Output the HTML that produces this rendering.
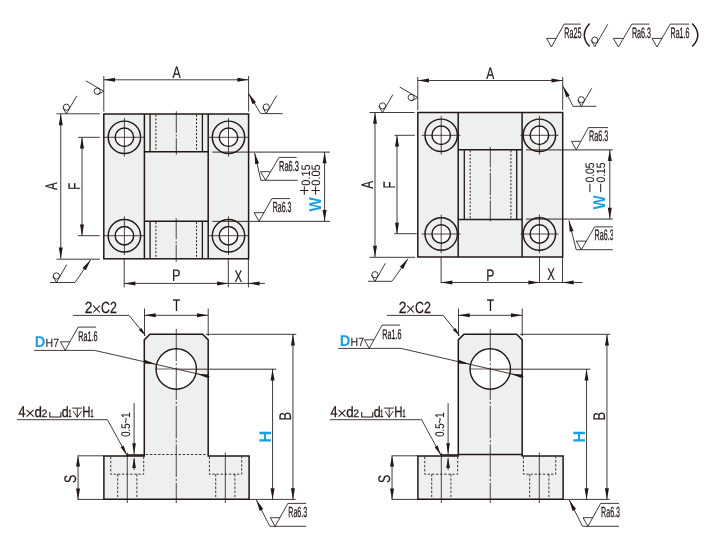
<!DOCTYPE html>
<html><head><meta charset="utf-8"><title>drawing</title>
<style>
html,body{margin:0;padding:0;background:#fff;}
svg{will-change:transform;}
svg{display:block;font-family:"Liberation Sans",sans-serif;text-rendering:geometricPrecision;}
</style></head>
<body>
<svg width="709" height="542" viewBox="0 0 709 542">
<rect width="709" height="542" fill="#fff"/>
<polyline points="546.63,38.40 551.40,47.00 564.10,24.10 580.60,24.10" fill="none" stroke="#231815" stroke-width="0.85" stroke-linejoin="miter"/>
<line x1="546.63" y1="38.40" x2="556.17" y2="38.40" stroke="#231815" stroke-width="0.85" stroke-linecap="butt"/>
<text transform="translate(564.90,38.10) scale(0.4731,1) translate(-1.247,0)" font-size="15.2" fill="#231815" stroke="#231815" stroke-width="0.3" vector-effect="non-scaling-stroke">Ra25</text>
<path d="M589.6,23.4 Q579.0,35 589.6,46.6" fill="none" stroke="#231815" stroke-width="1.45"/>
<g transform="translate(594.80,46.70) rotate(0)" fill="none" stroke="#231815" stroke-width="0.85"><polyline points="-3.6,-6.3 0,0 13.00,-22.52"/><circle cx="0" cy="-6.6" r="3.1"/></g>
<polyline points="613.37,38.40 618.40,47.00 631.80,24.10 649.40,24.10" fill="none" stroke="#231815" stroke-width="0.85" stroke-linejoin="miter"/>
<line x1="613.37" y1="38.40" x2="623.43" y2="38.40" stroke="#231815" stroke-width="0.85" stroke-linecap="butt"/>
<text transform="translate(632.50,38.10) scale(0.4709,1) translate(-1.247,0)" font-size="15.2" fill="#231815" stroke="#231815" stroke-width="0.3" vector-effect="non-scaling-stroke">Ra6.3</text>
<polyline points="652.04,38.40 657.00,47.00 670.20,24.10 689.10,24.10" fill="none" stroke="#231815" stroke-width="0.85" stroke-linejoin="miter"/>
<line x1="652.04" y1="38.40" x2="661.96" y2="38.40" stroke="#231815" stroke-width="0.85" stroke-linecap="butt"/>
<text transform="translate(671.10,38.10) scale(0.4658,1) translate(-1.247,0)" font-size="15.2" fill="#231815" stroke="#231815" stroke-width="0.3" vector-effect="non-scaling-stroke">Ra1.6</text>
<path d="M692.2,23.4 Q703.4,35 692.2,46.6" fill="none" stroke="#231815" stroke-width="1.45"/>
<rect x="103.8" y="114.0" width="144.80" height="144.80" fill="#eeefef" stroke="#231815" stroke-width="1.5"/>
<line x1="144.40" y1="114.00" x2="144.40" y2="258.80" stroke="#231815" stroke-width="1.5" stroke-linecap="butt"/>
<line x1="208.20" y1="114.00" x2="208.20" y2="258.80" stroke="#231815" stroke-width="1.5" stroke-linecap="butt"/>
<line x1="144.40" y1="151.80" x2="208.20" y2="151.80" stroke="#231815" stroke-width="1.5" stroke-linecap="butt"/>
<line x1="144.40" y1="221.20" x2="208.20" y2="221.20" stroke="#231815" stroke-width="1.5" stroke-linecap="butt"/>
<line x1="150.05" y1="114.00" x2="150.05" y2="151.80" stroke="#231815" stroke-width="1.3" stroke-linecap="butt"/>
<line x1="150.05" y1="221.20" x2="150.05" y2="258.80" stroke="#231815" stroke-width="1.3" stroke-linecap="butt"/>
<line x1="202.40" y1="114.00" x2="202.40" y2="151.80" stroke="#231815" stroke-width="1.3" stroke-linecap="butt"/>
<line x1="202.40" y1="221.20" x2="202.40" y2="258.80" stroke="#231815" stroke-width="1.3" stroke-linecap="butt"/>
<line x1="155.90" y1="114.80" x2="155.90" y2="151.20" stroke="#231815" stroke-width="1.0" stroke-dasharray="1.9 1.75" stroke-linecap="butt"/>
<line x1="155.90" y1="222.00" x2="155.90" y2="258.30" stroke="#231815" stroke-width="1.0" stroke-dasharray="1.9 1.75" stroke-linecap="butt"/>
<line x1="196.50" y1="114.80" x2="196.50" y2="151.20" stroke="#231815" stroke-width="1.0" stroke-dasharray="1.9 1.75" stroke-linecap="butt"/>
<line x1="196.50" y1="222.00" x2="196.50" y2="258.30" stroke="#231815" stroke-width="1.0" stroke-dasharray="1.9 1.75" stroke-linecap="butt"/>
<line x1="176.30" y1="111.30" x2="176.30" y2="154.70" stroke="#231815" stroke-width="0.8" stroke-dasharray="21.7 1.5 2 1.5" stroke-linecap="butt"/>
<line x1="176.20" y1="218.30" x2="176.20" y2="261.80" stroke="#231815" stroke-width="0.8" stroke-dasharray="21 2.2 2 1.3 17.5" stroke-linecap="butt"/>
<circle cx="124.40" cy="137.30" r="16.20" fill="none" stroke="#231815" stroke-width="1.45"/>
<circle cx="124.40" cy="137.30" r="9.25" fill="#fff" stroke="#231815" stroke-width="1.45"/>
<circle cx="124.40" cy="235.70" r="16.20" fill="none" stroke="#231815" stroke-width="1.45"/>
<circle cx="124.40" cy="235.70" r="9.25" fill="#fff" stroke="#231815" stroke-width="1.45"/>
<circle cx="228.50" cy="137.30" r="16.20" fill="none" stroke="#231815" stroke-width="1.45"/>
<circle cx="228.50" cy="137.30" r="9.25" fill="#fff" stroke="#231815" stroke-width="1.45"/>
<circle cx="228.50" cy="235.70" r="16.20" fill="none" stroke="#231815" stroke-width="1.45"/>
<circle cx="228.50" cy="235.70" r="9.25" fill="#fff" stroke="#231815" stroke-width="1.45"/>
<line x1="103.80" y1="137.30" x2="144.40" y2="137.30" stroke="#231815" stroke-width="0.8" stroke-linecap="butt"/>
<line x1="124.40" y1="118.00" x2="124.40" y2="156.50" stroke="#231815" stroke-width="0.8" stroke-linecap="butt"/>
<line x1="103.80" y1="235.70" x2="144.40" y2="235.70" stroke="#231815" stroke-width="0.8" stroke-linecap="butt"/>
<line x1="124.40" y1="216.40" x2="124.40" y2="255.00" stroke="#231815" stroke-width="0.8" stroke-linecap="butt"/>
<line x1="209.00" y1="137.30" x2="248.60" y2="137.30" stroke="#231815" stroke-width="0.8" stroke-linecap="butt"/>
<line x1="228.50" y1="118.00" x2="228.50" y2="156.50" stroke="#231815" stroke-width="0.8" stroke-linecap="butt"/>
<line x1="209.00" y1="235.70" x2="248.60" y2="235.70" stroke="#231815" stroke-width="0.8" stroke-linecap="butt"/>
<line x1="228.50" y1="216.40" x2="228.50" y2="255.00" stroke="#231815" stroke-width="0.8" stroke-linecap="butt"/>
<line x1="103.80" y1="76.00" x2="103.80" y2="111.60" stroke="#231815" stroke-width="0.85" stroke-linecap="butt"/>
<line x1="248.60" y1="76.00" x2="248.60" y2="111.60" stroke="#231815" stroke-width="0.85" stroke-linecap="butt"/>
<line x1="103.80" y1="79.80" x2="248.60" y2="79.80" stroke="#231815" stroke-width="0.85" stroke-linecap="butt"/>
<polygon points="103.80,79.80 115.00,77.80 115.00,81.80" fill="#231815"/>
<polygon points="248.60,79.80 237.40,81.80 237.40,77.80" fill="#231815"/>
<text transform="translate(172.40,78.00) scale(0.7450,1) translate(-0.032,0)" font-size="16.6" fill="#231815" stroke="#231815" stroke-width="0.15" vector-effect="non-scaling-stroke">A</text>
<line x1="56.50" y1="113.80" x2="99.80" y2="113.80" stroke="#231815" stroke-width="0.85" stroke-linecap="butt"/>
<line x1="56.50" y1="259.20" x2="99.80" y2="259.20" stroke="#231815" stroke-width="0.85" stroke-linecap="butt"/>
<line x1="60.75" y1="114.00" x2="60.75" y2="258.80" stroke="#231815" stroke-width="0.85" stroke-linecap="butt"/>
<polygon points="60.75,114.00 62.75,125.20 58.75,125.20" fill="#231815"/>
<polygon points="60.75,258.80 58.75,247.60 62.75,247.60" fill="#231815"/>
<text transform="translate(57.30,190.10) rotate(-90) scale(0.6905,1) translate(-0.032,0)" font-size="16.6" fill="#231815" stroke="#231815" stroke-width="0.19" vector-effect="non-scaling-stroke">A</text>
<line x1="78.00" y1="137.30" x2="99.80" y2="137.30" stroke="#231815" stroke-width="0.85" stroke-linecap="butt"/>
<line x1="78.00" y1="235.70" x2="99.80" y2="235.70" stroke="#231815" stroke-width="0.85" stroke-linecap="butt"/>
<line x1="82.00" y1="137.30" x2="82.00" y2="235.70" stroke="#231815" stroke-width="0.85" stroke-linecap="butt"/>
<polygon points="82.00,137.30 84.00,148.50 80.00,148.50" fill="#231815"/>
<polygon points="82.00,235.70 80.00,224.50 84.00,224.50" fill="#231815"/>
<text transform="translate(79.70,188.70) rotate(-90) scale(0.6820,1) translate(-1.378,0)" font-size="16.8" fill="#231815" stroke="#231815" stroke-width="0.19" vector-effect="non-scaling-stroke">F</text>
<line x1="124.20" y1="258.80" x2="124.20" y2="287.30" stroke="#231815" stroke-width="0.85" stroke-linecap="butt"/>
<line x1="228.30" y1="258.80" x2="228.30" y2="287.30" stroke="#231815" stroke-width="0.85" stroke-linecap="butt"/>
<line x1="248.40" y1="258.80" x2="248.40" y2="287.30" stroke="#231815" stroke-width="0.85" stroke-linecap="butt"/>
<line x1="124.20" y1="283.40" x2="264.90" y2="283.40" stroke="#231815" stroke-width="0.85" stroke-linecap="butt"/>
<polygon points="124.20,283.40 135.40,281.40 135.40,285.40" fill="#231815"/>
<polygon points="228.30,283.40 217.10,285.40 217.10,281.40" fill="#231815"/>
<polygon points="248.40,283.40 259.60,281.40 259.60,285.40" fill="#231815"/>
<text transform="translate(173.00,280.80) scale(0.7605,1) translate(-1.378,0)" font-size="16.8" fill="#231815" stroke="#231815" stroke-width="0.14" vector-effect="non-scaling-stroke">P</text>
<text transform="translate(234.80,281.60) scale(0.6956,1) translate(-0.373,0)" font-size="16.6" fill="#231815" stroke="#231815" stroke-width="0.18" vector-effect="non-scaling-stroke">X</text>
<line x1="212.30" y1="152.10" x2="329.90" y2="152.10" stroke="#231815" stroke-width="0.9" stroke-linecap="butt"/>
<line x1="212.30" y1="221.35" x2="329.90" y2="221.35" stroke="#231815" stroke-width="0.9" stroke-linecap="butt"/>
<line x1="324.60" y1="152.10" x2="324.60" y2="221.30" stroke="#231815" stroke-width="0.85" stroke-linecap="butt"/>
<polygon points="324.60,152.10 326.60,163.30 322.60,163.30" fill="#231815"/>
<polygon points="324.60,221.30 322.60,210.10 326.60,210.10" fill="#231815"/>
<g transform="translate(66.40,113.80) rotate(0)" fill="none" stroke="#231815" stroke-width="0.85"><polyline points="-3.6,-6.3 0,0 10.40,-18.01"/><circle cx="0" cy="-6.6" r="3.1"/></g>
<g transform="translate(103.80,91.20) rotate(-90)" fill="none" stroke="#231815" stroke-width="0.85"><polyline points="-3.6,-6.3 0,0 10.40,-18.01"/><circle cx="0" cy="-6.6" r="3.1"/></g>
<polygon points="248.60,93.50 256.01,102.14 252.56,104.17" fill="#231815"/>
<polyline points="248.60,93.50 260.65,113.60 282.60,113.60" fill="none" stroke="#231815" stroke-width="0.85" stroke-linejoin="miter"/>
<g transform="translate(266.30,113.60) rotate(0)" fill="none" stroke="#231815" stroke-width="0.85"><polyline points="-3.6,-6.3 0,0 10.40,-18.01"/><circle cx="0" cy="-6.6" r="3.1"/></g>
<polygon points="90.50,260.00 85.80,270.36 82.51,268.10" fill="#231815"/>
<polyline points="90.50,260.00 75.00,282.50 50.00,282.50" fill="none" stroke="#231815" stroke-width="0.85" stroke-linejoin="miter"/>
<g transform="translate(56.40,282.50) rotate(0)" fill="none" stroke="#231815" stroke-width="0.85"><polyline points="-3.6,-6.3 0,0 10.40,-18.01"/><circle cx="0" cy="-6.6" r="3.1"/></g>
<polygon points="254.60,152.90 259.07,163.36 255.17,164.26" fill="#231815"/>
<polyline points="254.60,152.90 260.90,180.30 297.70,180.30" fill="none" stroke="#231815" stroke-width="0.85" stroke-linejoin="miter"/>
<polyline points="260.57,171.70 265.60,180.30 279.00,157.40 296.60,157.40" fill="none" stroke="#231815" stroke-width="0.85" stroke-linejoin="miter"/>
<line x1="260.57" y1="171.70" x2="270.63" y2="171.70" stroke="#231815" stroke-width="0.85" stroke-linecap="butt"/>
<text transform="translate(279.60,170.60) scale(0.5190,1) translate(-1.181,0)" font-size="14.4" fill="#231815" stroke="#231815" stroke-width="0.3" vector-effect="non-scaling-stroke">Ra6.3</text>
<polyline points="254.11,212.70 259.00,221.30 271.90,198.60 290.20,198.60" fill="none" stroke="#231815" stroke-width="0.85" stroke-linejoin="miter"/>
<line x1="254.11" y1="212.70" x2="263.89" y2="212.70" stroke="#231815" stroke-width="0.85" stroke-linecap="butt"/>
<text transform="translate(273.30,212.00) scale(0.4795,1) translate(-1.198,0)" font-size="14.6" fill="#231815" stroke="#231815" stroke-width="0.3" vector-effect="non-scaling-stroke">Ra6.3</text>
<text transform="translate(309.50,185.20) rotate(-90) scale(0.8965,1) translate(-0.477,0)" font-size="12.2" fill="#231815" stroke="#231815" stroke-width="0.06" vector-effect="non-scaling-stroke">0.15</text>
<line x1="304.30" y1="194.70" x2="304.30" y2="186.30" stroke="#231815" stroke-width="1.0" stroke-linecap="butt"/>
<line x1="300.10" y1="190.50" x2="308.50" y2="190.50" stroke="#231815" stroke-width="1.0" stroke-linecap="butt"/>
<text transform="translate(320.40,185.20) rotate(-90) scale(0.8965,1) translate(-0.477,0)" font-size="12.2" fill="#231815" stroke="#231815" stroke-width="0.06" vector-effect="non-scaling-stroke">0.05</text>
<line x1="315.60" y1="194.70" x2="315.60" y2="186.30" stroke="#231815" stroke-width="1.0" stroke-linecap="butt"/>
<line x1="311.40" y1="190.50" x2="319.80" y2="190.50" stroke="#231815" stroke-width="1.0" stroke-linecap="butt"/>
<text transform="translate(320.50,211.60) rotate(-90) scale(0.8868,1) translate(-0.017,0)" font-size="17" fill="#1a9de2" font-weight="bold">W</text>
<rect x="417.8" y="112.5" width="144.90" height="144.50" fill="#eeefef" stroke="#231815" stroke-width="1.5"/>
<line x1="458.20" y1="112.50" x2="458.20" y2="257.00" stroke="#231815" stroke-width="1.5" stroke-linecap="butt"/>
<line x1="522.10" y1="112.50" x2="522.10" y2="257.00" stroke="#231815" stroke-width="1.5" stroke-linecap="butt"/>
<line x1="458.20" y1="149.70" x2="522.10" y2="149.70" stroke="#231815" stroke-width="1.5" stroke-linecap="butt"/>
<line x1="458.20" y1="219.60" x2="522.10" y2="219.60" stroke="#231815" stroke-width="1.5" stroke-linecap="butt"/>
<line x1="464.30" y1="149.70" x2="464.30" y2="219.60" stroke="#231815" stroke-width="1.3" stroke-linecap="butt"/>
<line x1="516.70" y1="149.70" x2="516.70" y2="219.60" stroke="#231815" stroke-width="1.3" stroke-linecap="butt"/>
<line x1="470.20" y1="150.50" x2="470.20" y2="219.00" stroke="#231815" stroke-width="1.0" stroke-dasharray="1.9 1.75" stroke-linecap="butt"/>
<line x1="510.90" y1="150.50" x2="510.90" y2="219.00" stroke="#231815" stroke-width="1.0" stroke-dasharray="1.9 1.75" stroke-linecap="butt"/>
<line x1="490.30" y1="147.00" x2="490.30" y2="221.30" stroke="#231815" stroke-width="0.8" stroke-dasharray="20.4 1.4 2.6 1.4 22.4 1.4 2.6 1.4 21" stroke-linecap="butt"/>
<circle cx="441.20" cy="135.30" r="16.20" fill="none" stroke="#231815" stroke-width="1.45"/>
<circle cx="441.20" cy="135.30" r="9.25" fill="#fff" stroke="#231815" stroke-width="1.45"/>
<circle cx="441.20" cy="234.00" r="16.20" fill="none" stroke="#231815" stroke-width="1.45"/>
<circle cx="441.20" cy="234.00" r="9.25" fill="#fff" stroke="#231815" stroke-width="1.45"/>
<circle cx="539.40" cy="135.30" r="16.20" fill="none" stroke="#231815" stroke-width="1.45"/>
<circle cx="539.40" cy="135.30" r="9.25" fill="#fff" stroke="#231815" stroke-width="1.45"/>
<circle cx="539.40" cy="234.00" r="16.20" fill="none" stroke="#231815" stroke-width="1.45"/>
<circle cx="539.40" cy="234.00" r="9.25" fill="#fff" stroke="#231815" stroke-width="1.45"/>
<line x1="421.70" y1="135.30" x2="460.50" y2="135.30" stroke="#231815" stroke-width="0.8" stroke-linecap="butt"/>
<line x1="441.20" y1="115.90" x2="441.20" y2="154.60" stroke="#231815" stroke-width="0.8" stroke-linecap="butt"/>
<line x1="421.70" y1="234.00" x2="460.50" y2="234.00" stroke="#231815" stroke-width="0.8" stroke-linecap="butt"/>
<line x1="441.20" y1="214.60" x2="441.20" y2="253.30" stroke="#231815" stroke-width="0.8" stroke-linecap="butt"/>
<line x1="520.40" y1="135.30" x2="558.50" y2="135.30" stroke="#231815" stroke-width="0.8" stroke-linecap="butt"/>
<line x1="539.40" y1="115.90" x2="539.40" y2="154.60" stroke="#231815" stroke-width="0.8" stroke-linecap="butt"/>
<line x1="520.40" y1="234.00" x2="558.50" y2="234.00" stroke="#231815" stroke-width="0.8" stroke-linecap="butt"/>
<line x1="539.40" y1="214.60" x2="539.40" y2="253.30" stroke="#231815" stroke-width="0.8" stroke-linecap="butt"/>
<line x1="417.80" y1="77.00" x2="417.80" y2="110.00" stroke="#231815" stroke-width="0.85" stroke-linecap="butt"/>
<line x1="562.70" y1="77.00" x2="562.70" y2="110.00" stroke="#231815" stroke-width="0.85" stroke-linecap="butt"/>
<line x1="417.80" y1="80.50" x2="562.70" y2="80.50" stroke="#231815" stroke-width="0.85" stroke-linecap="butt"/>
<polygon points="417.80,80.50 429.00,78.50 429.00,82.50" fill="#231815"/>
<polygon points="562.70,80.50 551.50,82.50 551.50,78.50" fill="#231815"/>
<text transform="translate(486.20,79.10) scale(0.7268,1) translate(-0.032,0)" font-size="16.6" fill="#231815" stroke="#231815" stroke-width="0.16" vector-effect="non-scaling-stroke">A</text>
<line x1="369.50" y1="112.50" x2="414.60" y2="112.50" stroke="#231815" stroke-width="0.85" stroke-linecap="butt"/>
<line x1="369.50" y1="257.30" x2="415.20" y2="257.30" stroke="#231815" stroke-width="0.85" stroke-linecap="butt"/>
<line x1="375.00" y1="112.50" x2="375.00" y2="257.00" stroke="#231815" stroke-width="0.85" stroke-linecap="butt"/>
<polygon points="375.00,112.50 377.00,123.70 373.00,123.70" fill="#231815"/>
<polygon points="375.00,257.00 373.00,245.80 377.00,245.80" fill="#231815"/>
<text transform="translate(372.80,188.70) rotate(-90) scale(0.7086,1) translate(-0.032,0)" font-size="16.6" fill="#231815" stroke="#231815" stroke-width="0.17" vector-effect="non-scaling-stroke">A</text>
<line x1="394.50" y1="135.30" x2="414.80" y2="135.30" stroke="#231815" stroke-width="0.85" stroke-linecap="butt"/>
<line x1="394.20" y1="233.70" x2="416.70" y2="233.70" stroke="#231815" stroke-width="0.85" stroke-linecap="butt"/>
<line x1="397.00" y1="135.30" x2="397.00" y2="234.00" stroke="#231815" stroke-width="0.85" stroke-linecap="butt"/>
<polygon points="397.00,135.30 399.00,146.50 395.00,146.50" fill="#231815"/>
<polygon points="397.00,234.00 395.00,222.80 399.00,222.80" fill="#231815"/>
<text transform="translate(394.60,187.50) rotate(-90) scale(0.6942,1) translate(-1.378,0)" font-size="16.8" fill="#231815" stroke="#231815" stroke-width="0.18" vector-effect="non-scaling-stroke">F</text>
<line x1="441.10" y1="257.00" x2="441.10" y2="283.00" stroke="#231815" stroke-width="0.85" stroke-linecap="butt"/>
<line x1="539.50" y1="257.00" x2="539.50" y2="283.00" stroke="#231815" stroke-width="0.85" stroke-linecap="butt"/>
<line x1="562.50" y1="257.00" x2="562.50" y2="283.00" stroke="#231815" stroke-width="0.85" stroke-linecap="butt"/>
<line x1="441.10" y1="282.50" x2="582.50" y2="282.50" stroke="#231815" stroke-width="0.85" stroke-linecap="butt"/>
<polygon points="441.10,282.50 452.30,280.50 452.30,284.50" fill="#231815"/>
<polygon points="539.60,282.50 528.40,284.50 528.40,280.50" fill="#231815"/>
<polygon points="562.50,282.50 573.70,280.50 573.70,284.50" fill="#231815"/>
<text transform="translate(487.20,280.50) scale(0.7357,1) translate(-1.362,0)" font-size="16.6" fill="#231815" stroke="#231815" stroke-width="0.16" vector-effect="non-scaling-stroke">P</text>
<text transform="translate(547.40,279.80) scale(0.6859,1) translate(-0.373,0)" font-size="16.6" fill="#231815" stroke="#231815" stroke-width="0.19" vector-effect="non-scaling-stroke">X</text>
<line x1="526.00" y1="149.90" x2="612.80" y2="149.90" stroke="#231815" stroke-width="0.9" stroke-linecap="butt"/>
<line x1="526.00" y1="219.05" x2="612.80" y2="219.05" stroke="#231815" stroke-width="0.9" stroke-linecap="butt"/>
<line x1="609.80" y1="149.90" x2="609.80" y2="219.00" stroke="#231815" stroke-width="0.85" stroke-linecap="butt"/>
<polygon points="609.80,149.90 611.80,161.10 607.80,161.10" fill="#231815"/>
<polygon points="609.80,219.00 607.80,207.80 611.80,207.80" fill="#231815"/>
<g transform="translate(382.50,112.50) rotate(0)" fill="none" stroke="#231815" stroke-width="0.85"><polyline points="-3.6,-6.3 0,0 10.40,-18.01"/><circle cx="0" cy="-6.6" r="3.1"/></g>
<g transform="translate(417.80,97.50) rotate(-90)" fill="none" stroke="#231815" stroke-width="0.85"><polyline points="-3.6,-6.3 0,0 10.40,-18.01"/><circle cx="0" cy="-6.6" r="3.1"/></g>
<polygon points="563.00,86.30 569.71,95.49 566.11,97.24" fill="#231815"/>
<polyline points="563.00,86.30 573.00,106.30 596.30,106.30" fill="none" stroke="#231815" stroke-width="0.85" stroke-linejoin="miter"/>
<g transform="translate(581.30,106.30) rotate(0)" fill="none" stroke="#231815" stroke-width="0.85"><polyline points="-3.6,-6.3 0,0 10.40,-18.01"/><circle cx="0" cy="-6.6" r="3.1"/></g>
<polygon points="408.00,258.80 403.14,269.09 399.88,266.77" fill="#231815"/>
<polyline points="408.00,258.80 392.00,281.30 368.00,281.30" fill="none" stroke="#231815" stroke-width="0.85" stroke-linejoin="miter"/>
<g transform="translate(375.00,281.30) rotate(0)" fill="none" stroke="#231815" stroke-width="0.85"><polyline points="-3.6,-6.3 0,0 10.40,-18.01"/><circle cx="0" cy="-6.6" r="3.1"/></g>
<polyline points="571.50,141.30 576.20,149.90 588.40,127.60 608.00,127.60" fill="none" stroke="#231815" stroke-width="0.85" stroke-linejoin="miter"/>
<line x1="571.50" y1="141.30" x2="580.90" y2="141.30" stroke="#231815" stroke-width="0.85" stroke-linecap="butt"/>
<text transform="translate(589.60,141.30) scale(0.4735,1) translate(-1.247,0)" font-size="15.2" fill="#231815" stroke="#231815" stroke-width="0.3" vector-effect="non-scaling-stroke">Ra6.3</text>
<polygon points="568.90,220.50 573.55,230.88 569.67,231.85" fill="#231815"/>
<polyline points="568.90,220.50 576.20,249.70 612.80,249.70" fill="none" stroke="#231815" stroke-width="0.85" stroke-linejoin="miter"/>
<polyline points="576.29,241.10 581.30,249.70 594.60,226.85 612.80,226.85" fill="none" stroke="#231815" stroke-width="0.85" stroke-linejoin="miter"/>
<line x1="576.29" y1="241.10" x2="586.31" y2="241.10" stroke="#231815" stroke-width="0.85" stroke-linecap="butt"/>
<text transform="translate(595.20,240.10) scale(0.4709,1) translate(-1.247,0)" font-size="15.2" fill="#231815" stroke="#231815" stroke-width="0.3" vector-effect="non-scaling-stroke">Ra6.3</text>
<rect x="612.9" y="222" width="8" height="32" fill="#fff"/>
<text transform="translate(594.30,182.20) rotate(-90) scale(0.8481,1) translate(-0.477,0)" font-size="12.2" fill="#231815" stroke="#231815" stroke-width="0.09" vector-effect="non-scaling-stroke">0.05</text>
<line x1="589.90" y1="192.20" x2="589.90" y2="183.80" stroke="#231815" stroke-width="1.0" stroke-linecap="butt"/>
<text transform="translate(605.10,182.20) rotate(-90) scale(0.8481,1) translate(-0.477,0)" font-size="12.2" fill="#231815" stroke="#231815" stroke-width="0.09" vector-effect="non-scaling-stroke">0.15</text>
<line x1="600.70" y1="192.20" x2="600.70" y2="183.80" stroke="#231815" stroke-width="1.0" stroke-linecap="butt"/>
<text transform="translate(605.10,209.60) rotate(-90) scale(0.8806,1) translate(-0.017,0)" font-size="17" fill="#1a9de2" font-weight="bold">W</text>
<polygon points="144.30,339.90 149.90,334.30 202.60,334.30 208.20,339.90 208.20,455.90 249.10,455.90 249.10,499.20 103.90,499.20 103.90,455.90 144.30,455.90" fill="#eeefef" stroke="#231815" stroke-width="1.5" stroke-linejoin="miter"/>
<line x1="126.60" y1="454.95" x2="145.00" y2="454.95" stroke="#231815" stroke-width="1.5" stroke-linecap="butt"/>
<line x1="145.80" y1="454.50" x2="207.70" y2="454.50" stroke="#231815" stroke-width="0.85" stroke-dasharray="2.4 1.7" stroke-linecap="butt"/>
<circle cx="176.25" cy="369.00" r="20.20" fill="#fff" stroke="#231815" stroke-width="1.4"/>
<line x1="176.25" y1="328.80" x2="176.25" y2="503.00" stroke="#231815" stroke-width="0.8" stroke-dasharray="32.6 1.8 2.2 1.9" stroke-linecap="butt"/>
<line x1="155.50" y1="369.00" x2="181.00" y2="369.00" stroke="#231815" stroke-width="0.7" stroke-linecap="butt"/>
<polyline points="110.75,456.70 110.75,474.20 143.70,474.20 143.70,456.70" fill="none" stroke="#231815" stroke-width="0.85" stroke-linejoin="miter" stroke-dasharray="2.4 1.7"/>
<line x1="117.70" y1="474.20" x2="117.70" y2="498.70" stroke="#231815" stroke-width="0.85" stroke-dasharray="2.4 1.7" stroke-linecap="butt"/>
<line x1="136.90" y1="474.20" x2="136.90" y2="498.70" stroke="#231815" stroke-width="0.85" stroke-dasharray="2.4 1.7" stroke-linecap="butt"/>
<line x1="127.30" y1="452.50" x2="127.30" y2="503.00" stroke="#231815" stroke-width="0.8" stroke-linecap="butt"/>
<polyline points="209.40,456.70 209.40,474.20 241.70,474.20 241.70,456.70" fill="none" stroke="#231815" stroke-width="0.85" stroke-linejoin="miter" stroke-dasharray="2.4 1.7"/>
<line x1="215.70" y1="474.20" x2="215.70" y2="498.70" stroke="#231815" stroke-width="0.85" stroke-dasharray="2.4 1.7" stroke-linecap="butt"/>
<line x1="234.90" y1="474.20" x2="234.90" y2="498.70" stroke="#231815" stroke-width="0.85" stroke-dasharray="2.4 1.7" stroke-linecap="butt"/>
<line x1="225.30" y1="452.50" x2="225.30" y2="503.00" stroke="#231815" stroke-width="0.8" stroke-linecap="butt"/>
<line x1="144.50" y1="308.50" x2="144.50" y2="336.00" stroke="#231815" stroke-width="0.85" stroke-linecap="butt"/>
<line x1="208.20" y1="308.50" x2="208.20" y2="336.00" stroke="#231815" stroke-width="0.85" stroke-linecap="butt"/>
<line x1="144.30" y1="315.30" x2="208.20" y2="315.30" stroke="#231815" stroke-width="0.85" stroke-linecap="butt"/>
<polygon points="144.50,315.30 155.70,313.30 155.70,317.30" fill="#231815"/>
<polygon points="208.20,315.30 197.00,317.30 197.00,313.30" fill="#231815"/>
<line x1="205.70" y1="334.30" x2="296.30" y2="334.30" stroke="#231815" stroke-width="0.85" stroke-linecap="butt"/>
<line x1="181.00" y1="369.20" x2="276.30" y2="369.20" stroke="#231815" stroke-width="0.9" stroke-linecap="butt"/>
<line x1="249.10" y1="499.40" x2="295.80" y2="499.40" stroke="#231815" stroke-width="0.85" stroke-linecap="butt"/>
<line x1="292.95" y1="334.30" x2="292.95" y2="499.40" stroke="#231815" stroke-width="0.85" stroke-linecap="butt"/>
<polygon points="292.95,334.30 294.95,345.50 290.95,345.50" fill="#231815"/>
<polygon points="292.95,499.40 290.95,488.20 294.95,488.20" fill="#231815"/>
<line x1="272.55" y1="369.20" x2="272.55" y2="499.40" stroke="#231815" stroke-width="0.85" stroke-linecap="butt"/>
<polygon points="272.55,369.20 274.55,380.40 270.55,380.40" fill="#231815"/>
<polygon points="272.55,499.40 270.55,488.20 274.55,488.20" fill="#231815"/>
<line x1="77.60" y1="455.80" x2="103.90" y2="455.80" stroke="#231815" stroke-width="0.85" stroke-linecap="butt"/>
<line x1="77.60" y1="499.40" x2="103.90" y2="499.40" stroke="#231815" stroke-width="0.85" stroke-linecap="butt"/>
<line x1="78.05" y1="455.80" x2="78.05" y2="499.40" stroke="#231815" stroke-width="0.85" stroke-linecap="butt"/>
<polygon points="78.05,455.80 80.05,466.60 76.05,466.60" fill="#231815"/>
<polygon points="78.05,499.40 76.05,488.60 80.05,488.60" fill="#231815"/>
<line x1="134.10" y1="403.20" x2="134.10" y2="454.50" stroke="#231815" stroke-width="0.85" stroke-linecap="butt"/>
<polygon points="134.10,454.30 132.30,443.30 135.90,443.30" fill="#231815"/>
<line x1="134.10" y1="458.50" x2="134.10" y2="470.00" stroke="#231815" stroke-width="0.85" stroke-linecap="butt"/>
<polygon points="134.10,457.20 135.90,468.00 132.30,468.00" fill="#231815"/>
<polygon points="256.40,500.00 263.27,509.07 259.70,510.89" fill="#231815"/>
<polyline points="256.40,500.00 269.80,526.30 306.20,526.30" fill="none" stroke="#231815" stroke-width="0.85" stroke-linejoin="miter"/>
<polyline points="270.29,517.70 275.10,526.30 287.90,503.40 306.20,503.40" fill="none" stroke="#231815" stroke-width="0.85" stroke-linejoin="miter"/>
<line x1="270.29" y1="517.70" x2="279.91" y2="517.70" stroke="#231815" stroke-width="0.85" stroke-linecap="butt"/>
<text transform="translate(288.90,516.90) scale(0.4849,1) translate(-1.198,0)" font-size="14.6" fill="#231815" stroke="#231815" stroke-width="0.3" vector-effect="non-scaling-stroke">Ra6.3</text>
<polygon points="458.30,339.90 463.90,334.30 516.60,334.30 522.20,339.90 522.20,455.90 563.10,455.90 563.10,499.20 417.90,499.20 417.90,455.90 458.30,455.90" fill="#eeefef" stroke="#231815" stroke-width="1.5" stroke-linejoin="miter"/>
<line x1="440.60" y1="454.95" x2="459.00" y2="454.95" stroke="#231815" stroke-width="1.5" stroke-linecap="butt"/>
<line x1="458.30" y1="454.50" x2="522.20" y2="454.50" stroke="#231815" stroke-width="1.5" stroke-linecap="butt"/>
<circle cx="490.25" cy="369.00" r="20.20" fill="#fff" stroke="#231815" stroke-width="1.4"/>
<line x1="490.25" y1="328.80" x2="490.25" y2="503.00" stroke="#231815" stroke-width="0.8" stroke-dasharray="32.6 1.8 2.2 1.9" stroke-linecap="butt"/>
<line x1="469.50" y1="369.00" x2="495.00" y2="369.00" stroke="#231815" stroke-width="0.7" stroke-linecap="butt"/>
<polyline points="424.75,456.70 424.75,474.20 457.70,474.20 457.70,456.70" fill="none" stroke="#231815" stroke-width="0.85" stroke-linejoin="miter" stroke-dasharray="2.4 1.7"/>
<line x1="431.70" y1="474.20" x2="431.70" y2="498.70" stroke="#231815" stroke-width="0.85" stroke-dasharray="2.4 1.7" stroke-linecap="butt"/>
<line x1="450.90" y1="474.20" x2="450.90" y2="498.70" stroke="#231815" stroke-width="0.85" stroke-dasharray="2.4 1.7" stroke-linecap="butt"/>
<line x1="441.30" y1="452.50" x2="441.30" y2="503.00" stroke="#231815" stroke-width="0.8" stroke-linecap="butt"/>
<polyline points="523.40,456.70 523.40,474.20 555.70,474.20 555.70,456.70" fill="none" stroke="#231815" stroke-width="0.85" stroke-linejoin="miter" stroke-dasharray="2.4 1.7"/>
<line x1="529.70" y1="474.20" x2="529.70" y2="498.70" stroke="#231815" stroke-width="0.85" stroke-dasharray="2.4 1.7" stroke-linecap="butt"/>
<line x1="548.90" y1="474.20" x2="548.90" y2="498.70" stroke="#231815" stroke-width="0.85" stroke-dasharray="2.4 1.7" stroke-linecap="butt"/>
<line x1="539.30" y1="452.50" x2="539.30" y2="503.00" stroke="#231815" stroke-width="0.8" stroke-linecap="butt"/>
<line x1="458.50" y1="308.50" x2="458.50" y2="336.00" stroke="#231815" stroke-width="0.85" stroke-linecap="butt"/>
<line x1="522.20" y1="308.50" x2="522.20" y2="336.00" stroke="#231815" stroke-width="0.85" stroke-linecap="butt"/>
<line x1="458.30" y1="315.30" x2="522.20" y2="315.30" stroke="#231815" stroke-width="0.85" stroke-linecap="butt"/>
<polygon points="458.50,315.30 469.70,313.30 469.70,317.30" fill="#231815"/>
<polygon points="522.20,315.30 511.00,317.30 511.00,313.30" fill="#231815"/>
<line x1="519.70" y1="334.30" x2="610.30" y2="334.30" stroke="#231815" stroke-width="0.85" stroke-linecap="butt"/>
<line x1="495.00" y1="369.20" x2="590.30" y2="369.20" stroke="#231815" stroke-width="0.9" stroke-linecap="butt"/>
<line x1="563.10" y1="499.40" x2="609.80" y2="499.40" stroke="#231815" stroke-width="0.85" stroke-linecap="butt"/>
<line x1="606.95" y1="334.30" x2="606.95" y2="499.40" stroke="#231815" stroke-width="0.85" stroke-linecap="butt"/>
<polygon points="606.95,334.30 608.95,345.50 604.95,345.50" fill="#231815"/>
<polygon points="606.95,499.40 604.95,488.20 608.95,488.20" fill="#231815"/>
<line x1="586.55" y1="369.20" x2="586.55" y2="499.40" stroke="#231815" stroke-width="0.85" stroke-linecap="butt"/>
<polygon points="586.55,369.20 588.55,380.40 584.55,380.40" fill="#231815"/>
<polygon points="586.55,499.40 584.55,488.20 588.55,488.20" fill="#231815"/>
<line x1="391.60" y1="455.80" x2="417.90" y2="455.80" stroke="#231815" stroke-width="0.85" stroke-linecap="butt"/>
<line x1="391.60" y1="499.40" x2="417.90" y2="499.40" stroke="#231815" stroke-width="0.85" stroke-linecap="butt"/>
<line x1="392.05" y1="455.80" x2="392.05" y2="499.40" stroke="#231815" stroke-width="0.85" stroke-linecap="butt"/>
<polygon points="392.05,455.80 394.05,466.60 390.05,466.60" fill="#231815"/>
<polygon points="392.05,499.40 390.05,488.60 394.05,488.60" fill="#231815"/>
<line x1="448.10" y1="403.20" x2="448.10" y2="454.50" stroke="#231815" stroke-width="0.85" stroke-linecap="butt"/>
<polygon points="448.10,454.30 446.30,443.30 449.90,443.30" fill="#231815"/>
<line x1="448.10" y1="458.50" x2="448.10" y2="470.00" stroke="#231815" stroke-width="0.85" stroke-linecap="butt"/>
<polygon points="448.10,457.20 449.90,468.00 446.30,468.00" fill="#231815"/>
<polygon points="569.20,500.00 576.07,509.07 572.50,510.89" fill="#231815"/>
<polyline points="569.20,500.00 582.60,526.30 619.00,526.30" fill="none" stroke="#231815" stroke-width="0.85" stroke-linejoin="miter"/>
<polyline points="583.09,517.70 587.90,526.30 600.70,503.40 619.00,503.40" fill="none" stroke="#231815" stroke-width="0.85" stroke-linejoin="miter"/>
<line x1="583.09" y1="517.70" x2="592.71" y2="517.70" stroke="#231815" stroke-width="0.85" stroke-linecap="butt"/>
<text transform="translate(601.70,516.90) scale(0.4849,1) translate(-1.198,0)" font-size="14.6" fill="#231815" stroke="#231815" stroke-width="0.3" vector-effect="non-scaling-stroke">Ra6.3</text>
<text transform="translate(172.90,310.90) scale(0.7264,1) translate(-0.377,0)" font-size="16.8" fill="#231815" stroke="#231815" stroke-width="0.16" vector-effect="non-scaling-stroke">T</text>
<text transform="translate(76.00,482.50) rotate(-90) scale(0.7341,1) translate(-0.763,0)" font-size="16.8" fill="#231815" stroke="#231815" stroke-width="0.16" vector-effect="non-scaling-stroke">S</text>
<text transform="translate(291.00,419.40) rotate(-90) scale(0.7717,1) translate(-1.378,0)" font-size="16.8" fill="#231815" stroke="#231815" stroke-width="0.14" vector-effect="non-scaling-stroke">B</text>
<text transform="translate(270.50,441.70) rotate(-90) scale(1.0024,1) translate(-1.124,0)" font-size="16.8" fill="#1a9de2" font-weight="bold">H</text>
<text transform="translate(130.10,436.40) rotate(-90) scale(0.7604,1) translate(-0.492,0)" font-size="12.6" fill="#231815" stroke="#231815" stroke-width="0.14" vector-effect="non-scaling-stroke">0.5~1</text>
<text transform="translate(85.40,313.20) scale(0.8536,1) translate(-0.815,0)" font-size="16.2" fill="#231815" stroke="#231815" stroke-width="0.25" vector-effect="non-scaling-stroke">2</text>
<line x1="93.20" y1="305.70" x2="99.90" y2="312.50" stroke="#231815" stroke-width="1.05" stroke-linecap="butt"/>
<line x1="93.20" y1="312.50" x2="99.90" y2="305.70" stroke="#231815" stroke-width="1.05" stroke-linecap="butt"/>
<text transform="translate(101.60,313.20) scale(0.7655,1) translate(-0.823,0)" font-size="16.2" fill="#231815" stroke="#231815" stroke-width="0.25" vector-effect="non-scaling-stroke">C2</text>
<polyline points="72.90,315.40 129.10,315.40 145.30,335.30" fill="none" stroke="#231815" stroke-width="0.85" stroke-linejoin="miter"/>
<polygon points="145.50,335.60 138.83,330.06 141.47,327.92" fill="#231815"/>
<text transform="translate(35.80,346.90) scale(0.9347,1) translate(-1.050,0)" font-size="15.7" fill="#1a9de2" font-weight="bold">D</text>
<text transform="translate(46.40,346.90) scale(0.9022,1) translate(-0.968,0)" font-size="11.8" fill="#231815" stroke="#231815" stroke-width="0.06" vector-effect="non-scaling-stroke">H7</text>
<polyline points="60.44,341.80 65.20,350.40 78.10,327.10 96.10,327.10" fill="none" stroke="#231815" stroke-width="0.85" stroke-linejoin="miter"/>
<line x1="60.44" y1="341.80" x2="69.96" y2="341.80" stroke="#231815" stroke-width="0.85" stroke-linecap="butt"/>
<text transform="translate(78.80,340.90) scale(0.5197,1) translate(-1.148,0)" font-size="14" fill="#231815" stroke="#231815" stroke-width="0.3" vector-effect="non-scaling-stroke">Ra1.6</text>
<polyline points="34.20,350.40 94.50,350.40 209.50,376.57" fill="none" stroke="#231815" stroke-width="0.85" stroke-linejoin="miter"/>
<polygon points="155.87,364.36 144.26,363.57 145.06,360.06" fill="#231815"/>
<polygon points="196.63,373.64 208.24,374.43 207.44,377.94" fill="#231815"/>
<text transform="translate(18.80,417.20) scale(0.7976,1) translate(-0.363,0)" font-size="15.8" fill="#231815" stroke="#231815" stroke-width="0.3" vector-effect="non-scaling-stroke">4</text>
<line x1="26.60" y1="409.90" x2="33.60" y2="416.70" stroke="#231815" stroke-width="1.05" stroke-linecap="butt"/>
<line x1="26.60" y1="416.70" x2="33.60" y2="409.90" stroke="#231815" stroke-width="1.05" stroke-linecap="butt"/>
<text transform="translate(35.00,417.40) scale(0.9015,1) translate(-0.621,0)" font-size="14.8" fill="#231815" stroke="#231815" stroke-width="0.3" vector-effect="non-scaling-stroke">d</text>
<text transform="translate(42.00,417.20) scale(0.9756,1) translate(-0.543,0)" font-size="10.8" fill="#231815" stroke="#231815" stroke-width="0.25" vector-effect="non-scaling-stroke">2</text>
<path d="M49.80,412.0 V416.9 H60.90 V412.0" fill="none" stroke="#231815" stroke-width="1.05"/>
<text transform="translate(62.30,417.40) scale(0.8414,1) translate(-0.621,0)" font-size="14.8" fill="#231815" stroke="#231815" stroke-width="0.3" vector-effect="non-scaling-stroke">d</text>
<text transform="translate(68.80,417.20) scale(0.5033,1) translate(-0.807,0)" font-size="10.6" fill="#231815" stroke="#231815" stroke-width="0.5" vector-effect="non-scaling-stroke">1</text>
<path d="M72.20,408.1 H82.00 M77.30,408.1 V417.2 M73.20,411.0 L77.30,417.4 L81.40,411.0" fill="none" stroke="#231815" stroke-width="0.9"/>
<text transform="translate(83.20,417.20) scale(0.7440,1) translate(-1.263,0)" font-size="15.4" fill="#231815" stroke="#231815" stroke-width="0.3" vector-effect="non-scaling-stroke">H</text>
<text transform="translate(91.00,417.20) scale(0.5033,1) translate(-0.807,0)" font-size="10.6" fill="#231815" stroke="#231815" stroke-width="0.5" vector-effect="non-scaling-stroke">1</text>
<polyline points="17.10,419.70 107.40,419.70 126.80,455.00" fill="none" stroke="#231815" stroke-width="0.85" stroke-linejoin="miter"/>
<polygon points="126.90,455.20 120.63,447.22 123.62,445.60" fill="#231815"/>
<text transform="translate(486.90,310.90) scale(0.7264,1) translate(-0.377,0)" font-size="16.8" fill="#231815" stroke="#231815" stroke-width="0.16" vector-effect="non-scaling-stroke">T</text>
<text transform="translate(390.00,482.50) rotate(-90) scale(0.7341,1) translate(-0.763,0)" font-size="16.8" fill="#231815" stroke="#231815" stroke-width="0.16" vector-effect="non-scaling-stroke">S</text>
<text transform="translate(605.00,419.40) rotate(-90) scale(0.7717,1) translate(-1.378,0)" font-size="16.8" fill="#231815" stroke="#231815" stroke-width="0.14" vector-effect="non-scaling-stroke">B</text>
<text transform="translate(584.50,441.70) rotate(-90) scale(1.0024,1) translate(-1.124,0)" font-size="16.8" fill="#1a9de2" font-weight="bold">H</text>
<text transform="translate(444.10,436.40) rotate(-90) scale(0.7604,1) translate(-0.492,0)" font-size="12.6" fill="#231815" stroke="#231815" stroke-width="0.14" vector-effect="non-scaling-stroke">0.5~1</text>
<text transform="translate(399.40,313.20) scale(0.8536,1) translate(-0.815,0)" font-size="16.2" fill="#231815" stroke="#231815" stroke-width="0.25" vector-effect="non-scaling-stroke">2</text>
<line x1="407.20" y1="305.70" x2="413.90" y2="312.50" stroke="#231815" stroke-width="1.05" stroke-linecap="butt"/>
<line x1="407.20" y1="312.50" x2="413.90" y2="305.70" stroke="#231815" stroke-width="1.05" stroke-linecap="butt"/>
<text transform="translate(415.60,313.20) scale(0.7655,1) translate(-0.823,0)" font-size="16.2" fill="#231815" stroke="#231815" stroke-width="0.25" vector-effect="non-scaling-stroke">C2</text>
<polyline points="386.90,315.40 443.10,315.40 459.30,335.30" fill="none" stroke="#231815" stroke-width="0.85" stroke-linejoin="miter"/>
<polygon points="459.50,335.60 452.83,330.06 455.47,327.92" fill="#231815"/>
<text transform="translate(340.80,345.90) scale(0.9347,1) translate(-1.050,0)" font-size="15.7" fill="#1a9de2" font-weight="bold">D</text>
<text transform="translate(351.40,345.90) scale(0.9022,1) translate(-0.968,0)" font-size="11.8" fill="#231815" stroke="#231815" stroke-width="0.06" vector-effect="non-scaling-stroke">H7</text>
<polyline points="364.44,339.80 369.20,348.40 382.10,325.10 400.10,325.10" fill="none" stroke="#231815" stroke-width="0.85" stroke-linejoin="miter"/>
<line x1="364.44" y1="339.80" x2="373.96" y2="339.80" stroke="#231815" stroke-width="0.85" stroke-linecap="butt"/>
<text transform="translate(382.80,338.90) scale(0.5197,1) translate(-1.148,0)" font-size="14" fill="#231815" stroke="#231815" stroke-width="0.3" vector-effect="non-scaling-stroke">Ra1.6</text>
<polyline points="338.20,348.40 401.10,348.40 523.47,376.68" fill="none" stroke="#231815" stroke-width="0.85" stroke-linejoin="miter"/>
<polygon points="469.89,364.29 458.28,363.46 459.09,359.95" fill="#231815"/>
<polygon points="510.61,373.71 522.22,374.54 521.41,378.05" fill="#231815"/>
<text transform="translate(330.70,417.20) scale(0.7976,1) translate(-0.363,0)" font-size="15.8" fill="#231815" stroke="#231815" stroke-width="0.3" vector-effect="non-scaling-stroke">4</text>
<line x1="338.50" y1="409.90" x2="345.50" y2="416.70" stroke="#231815" stroke-width="1.05" stroke-linecap="butt"/>
<line x1="338.50" y1="416.70" x2="345.50" y2="409.90" stroke="#231815" stroke-width="1.05" stroke-linecap="butt"/>
<text transform="translate(346.90,417.40) scale(0.9015,1) translate(-0.621,0)" font-size="14.8" fill="#231815" stroke="#231815" stroke-width="0.3" vector-effect="non-scaling-stroke">d</text>
<text transform="translate(353.90,417.20) scale(0.9756,1) translate(-0.543,0)" font-size="10.8" fill="#231815" stroke="#231815" stroke-width="0.25" vector-effect="non-scaling-stroke">2</text>
<path d="M361.70,412.0 V416.9 H372.80 V412.0" fill="none" stroke="#231815" stroke-width="1.05"/>
<text transform="translate(374.20,417.40) scale(0.8414,1) translate(-0.621,0)" font-size="14.8" fill="#231815" stroke="#231815" stroke-width="0.3" vector-effect="non-scaling-stroke">d</text>
<text transform="translate(380.70,417.20) scale(0.5033,1) translate(-0.807,0)" font-size="10.6" fill="#231815" stroke="#231815" stroke-width="0.5" vector-effect="non-scaling-stroke">1</text>
<path d="M384.10,408.1 H393.90 M389.20,408.1 V417.2 M385.10,411.0 L389.20,417.4 L393.30,411.0" fill="none" stroke="#231815" stroke-width="0.9"/>
<text transform="translate(395.10,417.20) scale(0.7440,1) translate(-1.263,0)" font-size="15.4" fill="#231815" stroke="#231815" stroke-width="0.3" vector-effect="non-scaling-stroke">H</text>
<text transform="translate(402.90,417.20) scale(0.5033,1) translate(-0.807,0)" font-size="10.6" fill="#231815" stroke="#231815" stroke-width="0.5" vector-effect="non-scaling-stroke">1</text>
<polyline points="329.90,419.70 421.60,419.70 440.80,455.00" fill="none" stroke="#231815" stroke-width="0.85" stroke-linejoin="miter"/>
<polygon points="440.90,455.20 434.63,447.22 437.62,445.60" fill="#231815"/>
</svg>
</body></html>
